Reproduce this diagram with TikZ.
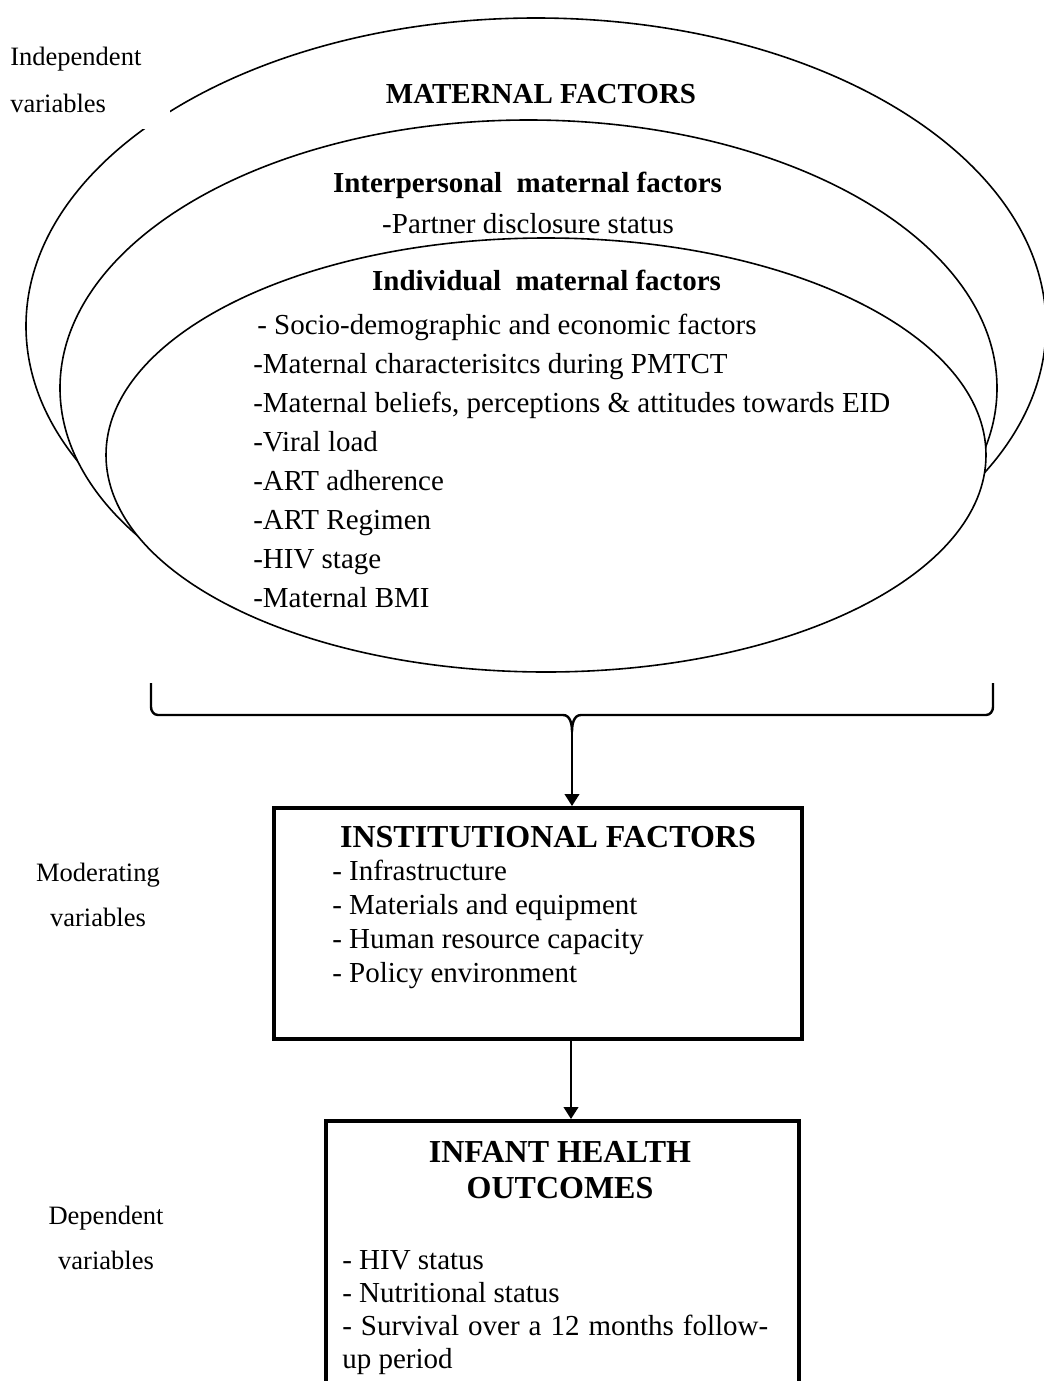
\documentclass[tikz,border=0pt]{standalone}
\usepackage{fontspec}
\setmainfont{Liberation Serif}
\usetikzlibrary{arrows.meta,shapes.geometric}
\begin{document}
\begin{tikzpicture}[x=0.75pt,y=-0.75pt,
  ring/.style={ellipse, draw, fill=white, line width=1.2pt, inner sep=0pt},
  body/.style={font=\fontsize{21.75}{29.25}\selectfont, inner sep=0pt},
  head/.style={font=\bfseries\fontsize{21.75}{26}\selectfont, inner sep=0pt},
  boxhead/.style={font=\bfseries\fontsize{24}{27}\selectfont, inner sep=0pt},
  boxbody/.style={font=\fontsize{21.75}{25.5}\selectfont, inner sep=0pt},
  lab/.style={font=\fontsize{19.9}{33.75}\selectfont, inner sep=0pt},
  factorbox/.style={draw, line width=3pt, inner sep=0pt},
  brace/.style={line width=1.8pt, line join=round},
  arr/.style={line width=1.5pt, -{Triangle[length=9pt,width=11pt]}}]
\useasboundingbox (0,0) rectangle (1044,1381);
\clip (0,0) rectangle (1044,1381);

% nested ellipses
\node[ring, minimum width=765pt, minimum height=462pt] (outer) at (536,326) {};
\node[ring, minimum width=702.75pt, minimum height=402pt] (middle) at (528.5,388) {};
\node[ring, minimum width=660pt, minimum height=325.5pt] (inner) at (546,455) {};

% label background covering the outer ring
\fill[white] (0,0) rectangle (170,129);
% (multi-line nodes: base anchor = baseline of last line)
\node[lab, anchor=base west, align=left, font=\fontsize{19.9}{35.25}\selectfont] (indep) at (10,112) {Independent\\variables};
\node[lab, anchor=base, align=center] (moder) at (98,926) {Moderating\\variables};
\node[lab, anchor=base, align=center] (depen) at (106,1269) {Dependent\\variables};

% ellipse texts
\node[head, anchor=base] (mat) at (541,103) {MATERNAL FACTORS};
\node[head, anchor=base] (inter) at (527.5,192) {Interpersonal\ \ maternal factors};
\node[body, anchor=base] (partner) at (528,233) {-Partner disclosure status};
\node[head, anchor=base] (indiv) at (546.5,290) {Individual\ \ maternal factors};
\node[body, anchor=base west, align=left] (indlist) at (253,607)
  {\hspace*{3pt}- Socio-demographic and economic factors\\
   -Maternal characterisitcs during PMTCT\\
   -Maternal beliefs, perceptions \& attitudes towards EID\\
   -Viral load\\
   -ART adherence\\
   -ART Regimen\\
   -HIV stage\\
   -Maternal BMI};

% boxes
\node[factorbox, anchor=north west, minimum width=396pt, minimum height=173.25pt] (inst) at (272,806) {};
\node[factorbox, anchor=north west, minimum width=354.75pt, minimum height=210.75pt] (outc) at (323.5,1119) {};

\node[boxhead, anchor=base] (insth) at (548,847) {INSTITUTIONAL FACTORS};
\node[boxbody, anchor=base west, align=left] (instl) at (332,982)
  {- Infrastructure\\- Materials and equipment\\- Human resource capacity\\- Policy environment};

\node[boxhead, anchor=base, align=center] (outh) at (560,1198) {INFANT HEALTH\\OUTCOMES};
\node[boxbody, anchor=base west, align=left, font=\fontsize{21.75}{24.75}\selectfont] (outl) at (342,1368)
  {- HIV status\\- Nutritional status\\\makebox[319.5pt][s]{- Survival over a 12 months follow-}\\up period};

% brace
\coordinate (bl) at (151,683);
\coordinate (br) at (993,683);
\coordinate (bm) at (572,732);
\draw[brace] (bl) -- (151,707) to[out=-90,in=180] (158,715) -- (563,715)
  to[out=0,in=90] (bm) to[out=90,in=180] (581,715) -- (986,715)
  to[out=0,in=-90] (993,707) -- (br);

% connectors
\coordinate (a2) at (571,0);
\draw[arr] (bm) -- (bm |- inst.north);
\draw[arr] (a2 |- inst.south) -- (a2 |- outc.north);
\end{tikzpicture}
\end{document}
